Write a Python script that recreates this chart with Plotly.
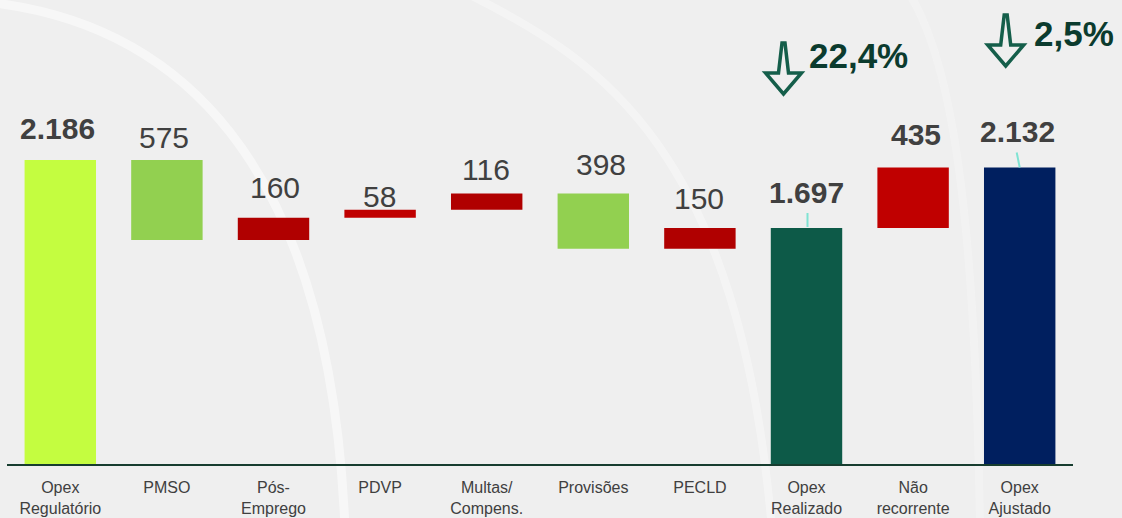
import plotly.graph_objects as go

# Waterfall data (R$ mi)
categories = ["Opex<br>Regulatório", "PMSO", "Pós-<br>Emprego", "PDVP", "Multas/<br>Compens.",
              "Provisões", "PECLD", "Opex<br>Realizado", "Não<br>recorrente", "Opex<br>Ajustado"]
values = [2186, 575, 160, 58, 116, 398, 150, 1697, 435, 2132]
kinds = ["total", "down", "up", "up", "up", "down", "up", "total", "up", "total"]
value_labels = ["2.186", "575", "160", "58", "116", "398", "150", "1.697", "435", "2.132"]
bold_labels = [True, False, False, False, False, False, False, True, True, True]
variations = ["22,4%", "2,5%"]

# Styling
colors = ["#c4fd40", "#92d050", "#b00000", "#c00000", "#b00000",
          "#92d050", "#b00000", "#0d5a48", "#c00000", "#001f5f"]
label_gap = [32, 23, 30, 13, 24, 29, 30, 36, 33, 36]
label_dx = [-3, -3, 1, -1, -1, 8, -1, 0, 3, -2]
BG = "#efefef"
W, H = 1122, 518
ML, MR, MT, MB = 7, 49, 0, 54

# Floating bar bases
bases, heights, tops = [], [], []
running = 0
for v, k in zip(values, kinds):
    if k == "total":
        base = 0
        running = v
    elif k == "down":
        running -= v
        base = running
    else:
        base = running
        running += v
    bases.append(base)
    heights.append(v)
    tops.append(base + v)

fig = go.Figure()
fig.add_trace(go.Bar(x=list(range(len(categories))), y=heights, base=bases, marker_color=colors,
                     marker_line_width=0, width=0.67, hoverinfo="skip"))

# Value labels
annotations = []
for i, (txt, b) in enumerate(zip(value_labels, bold_labels)):
    annotations.append(dict(
        x=i, y=tops[i], xref="x", yref="y", text=f"<b>{txt}</b>" if b else txt,
        showarrow=False, yanchor="middle", xanchor="center",
        yshift=label_gap[i], xshift=label_dx[i],
        font=dict(family="Liberation Sans, Arial", size=30, color="#404040")))

# Variation percentages
for idx, txt, dx, dy in [(7, variations[0], 0, -55), (9, variations[1], 12, -33)]:
    annotations.append(dict(
        x=idx, y=1, xref="x", yref="paper", text=f"<b>{txt}</b>", showarrow=False,
        xanchor="left", yanchor="middle", xshift=dx, yshift=dy,
        font=dict(family="Liberation Sans, Arial", size=35, color="#0b3b2e")))


def px_to_paper(px, py):
    return (px - ML) / (W - ML - MR), 1 - (py - MT) / (H - MT - MB)


def paper_path(points):
    pts = [px_to_paper(*p) for p in points]
    s = "M {:.4f},{:.4f} ".format(*pts[0])
    s += "C " + " ".join("{:.4f},{:.4f}".format(*p) for p in pts[1:])
    return s


shapes = []
# soft background swooshes
for pts, w, a in [([(-5, 3), (170, 25), (330, 150), (345, 530)], 9, 0.5),
                  ([(470, -5), (600, 60), (740, 150), (772, 530)], 8, 0.35),
                  ([(910, -5), (950, 60), (975, 200), (980, 530)], 8, 0.22)]:
    shapes.append(dict(type="path", xref="paper", yref="paper", path=paper_path(pts),
                       line=dict(color=f"rgba(255,255,255,{a})", width=w), layer="below"))


def arrow_path(dx, top):
    pts = [(-1.5, 0), (1.5, 0), (5, -30), (18, -30), (0, -51), (-18, -30), (-5, -30)]
    return "M " + " L ".join(f"{x + dx},{y - top}" for x, y in pts) + " Z"


# hollow down arrows
for idx, dx, top in [(7, -23, 43), (9, -14, 15)]:
    shapes.append(dict(type="path", xref="x", yref="paper", xsizemode="pixel", ysizemode="pixel",
                       xanchor=idx, yanchor=1, path=arrow_path(dx, top),
                       line=dict(color="#145e4a", width=3.5), fillcolor="rgba(0,0,0,0)"))

# teal leader lines to totals
for idx, x0, x1, y0, y1 in [(7, 1, 1, 1, 15), (9, -3, 0, 0, 15)]:
    shapes.append(dict(type="path", xref="x", yref="y", xsizemode="pixel", ysizemode="pixel",
                       xanchor=idx, yanchor=tops[idx], path=f"M {x1},{y0} L {x0},{y1}",
                       line=dict(color="#7fe3d3", width=2)))

fig.update_layout(
    width=W, height=H,
    margin=dict(l=ML, r=MR, t=MT, b=MB),
    paper_bgcolor=BG, plot_bgcolor=BG,
    showlegend=False,
    annotations=annotations,
    shapes=shapes,
    xaxis=dict(range=[-0.5, len(categories) - 0.5], tickmode="array",
               tickvals=list(range(len(categories))), ticktext=categories,
               showline=True, linecolor="#173d2f", linewidth=2, ticks="", showgrid=False,
               zeroline=False, ticklabelstandoff=8,
               tickfont=dict(family="Liberation Sans, Arial", size=16, color="#404040")),
    yaxis=dict(range=[0, 2186 * (H - MT - MB) / 304], visible=False, showgrid=False,
               zeroline=False),
)

fig.write_html("out.html", config={"displayModeBar": False},
               post_script="document.body.style.margin='0';")
